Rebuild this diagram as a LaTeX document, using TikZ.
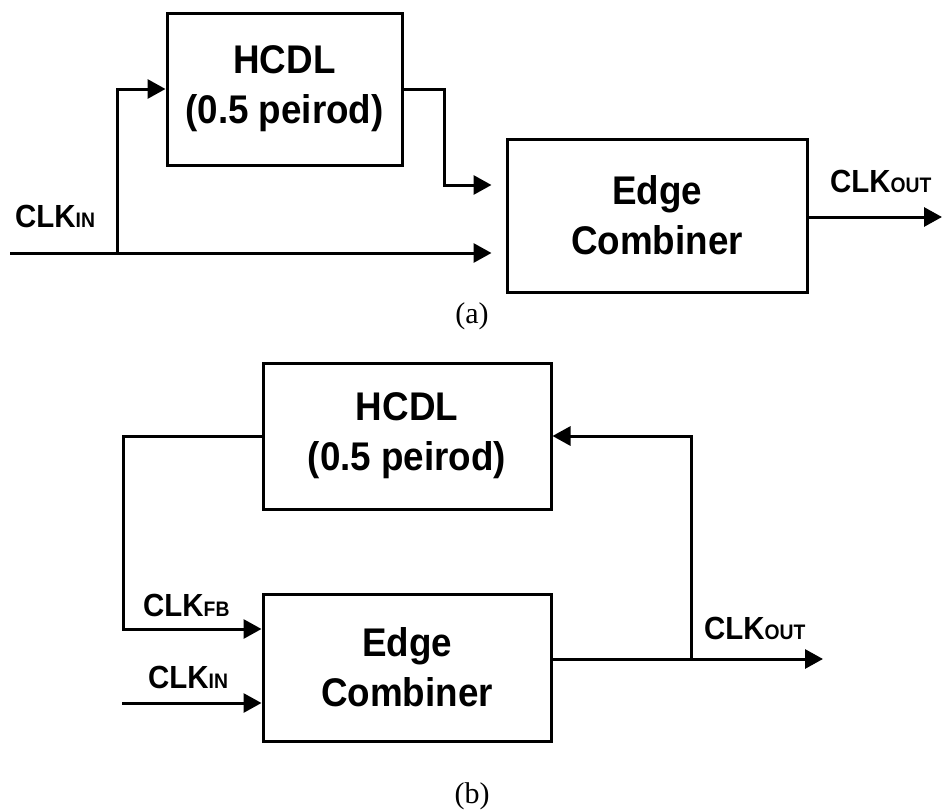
\documentclass[tikz,border=0pt]{standalone}
\usepackage{fontspec}
\setmainfont{Liberation Serif}
\newfontfamily\blockfont{Liberation Sans}[FakeStretch=0.92]
\usetikzlibrary{arrows.meta}

% signal name with a small upright subscript set on the baseline
\newcommand\clksig[1]{CLK{\fontsize{21}{21}\selectfont #1}}

\tikzset{
  blk/.style={draw, line width=3pt, inner sep=0pt, align=center,
    font=\blockfont\bfseries\fontsize{40}{50}\selectfont},
  wire/.style={line width=3pt},
  sig/.style={wire, -{Triangle[length=18pt,width=19pt]}},
  lbl/.style={inner sep=0pt, anchor=base west,
    font=\blockfont\bfseries\fontsize{32}{32}\selectfont},
  subcaption/.style={inner sep=0pt, font=\fontsize{30}{30}\selectfont}
}

\begin{document}
\begin{tikzpicture}[x=1pt, y=-1pt]
\useasboundingbox (0,0) rectangle (943,811);

% ---------- (a) open-loop doubler ----------
\node[blk, minimum width=235pt, minimum height=152pt] (hcdlA) at (284.5,89) {HCDL\\(0.5 peirod)};
\node[blk, minimum width=300pt, minimum height=153pt] (edgeA) at (657,215.5) {Edge\\Combiner};

\coordinate (inA) at (10,253);
\coordinate (brA) at (117,253);
\coordinate (outA) at (942,217);

\draw[sig, shorten >=14pt] (inA) -- (inA -| edgeA.west);
\draw[sig] (brA) |- (hcdlA.west);
\draw[sig, shorten >=14pt] (hcdlA.east) -- ++(41,0) |- (edgeA.west |- 0,185);
\draw[sig] (edgeA.east |- outA) -- (outA);

\node[lbl] (lblInA) at (15,227) {\clksig{IN}};
\node[lbl] (lblOutA) at (830,192) {\clksig{OUT}};
\node[subcaption] (capA) at (472,316) {(a)};

% ---------- (b) feedback loop ----------
\node[blk, minimum width=288pt, minimum height=146pt] (hcdlB) at (407,436) {HCDL\\(0.5 peirod)};
\node[blk, minimum width=288pt, minimum height=147pt] (edgeB) at (407,667.5) {Edge\\Combiner};

\coordinate (fbB) at (123,629);
\coordinate (inB) at (122,703);
\coordinate (outB) at (823,659);
\coordinate (brB) at (691,659);

\draw[sig] (hcdlB.west) -| (fbB) -- (fbB -| edgeB.west);
\draw[sig] (inB) -- (inB -| edgeB.west);
\draw[sig] (edgeB.east |- outB) -- (outB);
\draw[sig] (brB) |- (hcdlB.east);

\node[lbl] (lblFbB) at (143,616) {\clksig{FB}};
\node[lbl] (lblInB) at (148,688) {\clksig{IN}};
\node[lbl] (lblOutB) at (704,639) {\clksig{OUT}};
\node[subcaption] (capB) at (472,796) {(b)};
\end{tikzpicture}
\end{document}
